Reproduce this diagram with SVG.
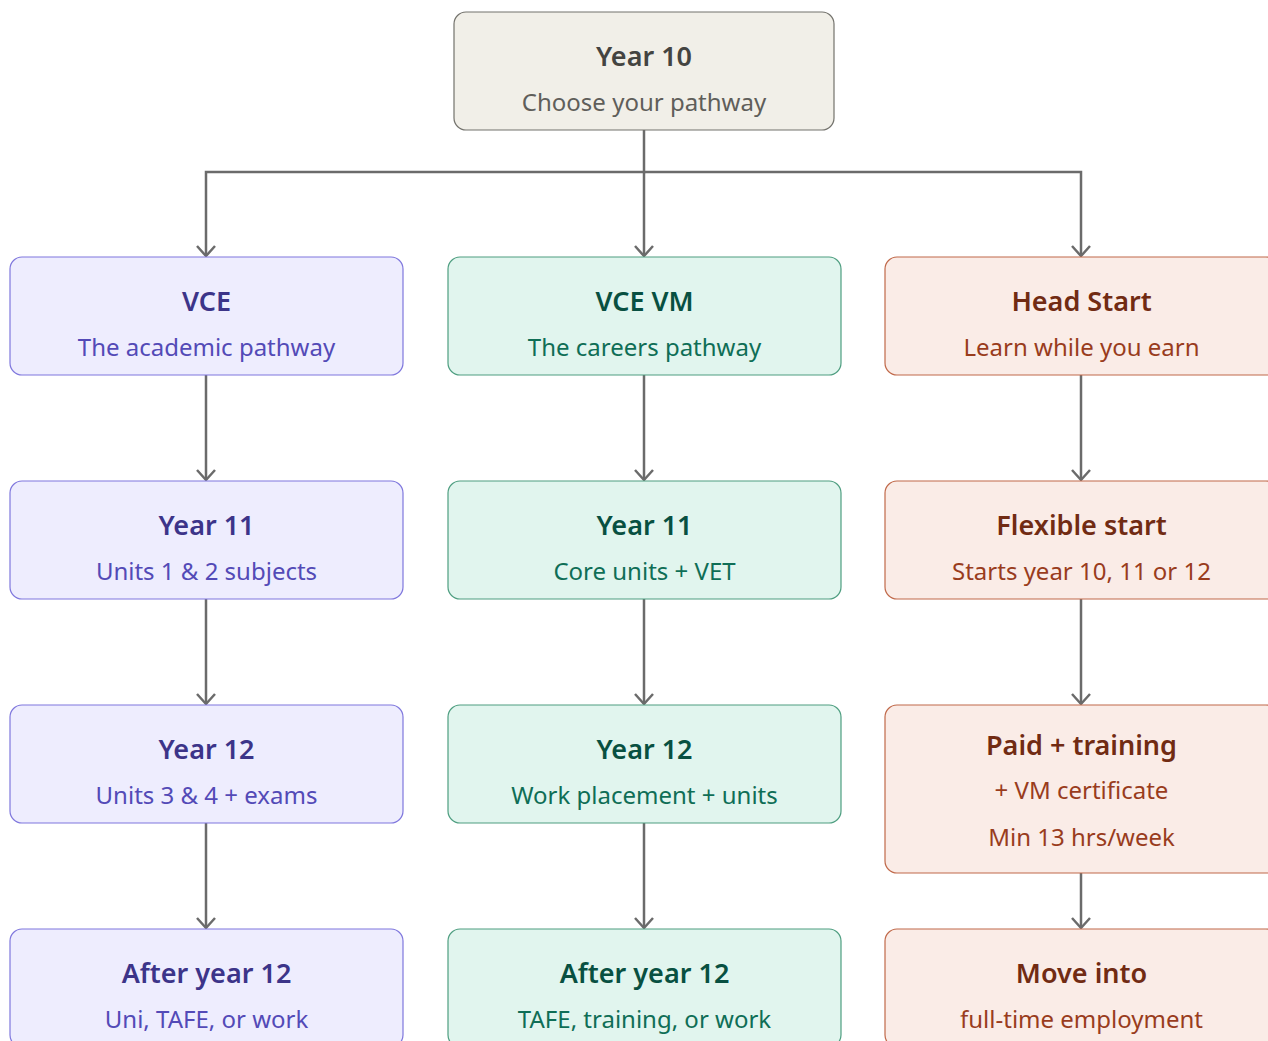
<svg xmlns="http://www.w3.org/2000/svg" width="1268" height="1041" viewBox="0 0 1268 1041">
<style>
.n rect{stroke-width:1.2}
.t{font-family:"Noto Sans","Open Sans",sans-serif;font-size:27px;font-weight:600;text-anchor:middle}
.s{font-family:"Noto Sans","Open Sans",sans-serif;font-size:24px;text-anchor:middle}
.g rect{fill:#F1EFE8;stroke:#73726C}.g .t{fill:#444441}.g .s{fill:#5F5E5A}
.p rect{fill:#EEEDFE;stroke:#7F77DD}.p .t{fill:#3C3489}.p .s{fill:#534AB7}
.m rect{fill:#E1F5EE;stroke:#4E9E80}.m .t{fill:#085041}.m .s{fill:#0F6E56}
.c rect{fill:#FAECE7;stroke:#C0694A}.c .t{fill:#712B13}.c .s{fill:#993C1D}
.e{fill:none;stroke:#6B6B6B;stroke-width:2.5}
</style>
<defs>
<marker id="a" viewBox="0 0 20 20" refX="18" refY="10" markerWidth="20" markerHeight="20" markerUnits="userSpaceOnUse" orient="auto">
<path d="M8,1 L18,10 L8,19" fill="none" stroke="#6B6B6B" stroke-width="2.5"/>
</marker>
</defs>
<rect width="1268" height="1041" fill="#fff"/>
<g id="connectors">
<path class="e" d="M644,130 V172 H206 V256" marker-end="url(#a)"/>
<path class="e" d="M644,172 V256" marker-end="url(#a)"/>
<path class="e" d="M644,172 H1081 V256" marker-end="url(#a)"/>
<path class="e" d="M206,375 V480" marker-end="url(#a)"/>
<path class="e" d="M644,375 V480" marker-end="url(#a)"/>
<path class="e" d="M1081,375 V480" marker-end="url(#a)"/>
<path class="e" d="M206,599 V704" marker-end="url(#a)"/>
<path class="e" d="M644,599 V704" marker-end="url(#a)"/>
<path class="e" d="M1081,599 V704" marker-end="url(#a)"/>
<path class="e" d="M206,823 V928" marker-end="url(#a)"/>
<path class="e" d="M644,823 V928" marker-end="url(#a)"/>
<path class="e" d="M1081,873 V928" marker-end="url(#a)"/>
</g>
<g id="year10" class="n g"><rect x="454" y="12" width="380" height="118" rx="12"/><text class="t" x="644" y="66">Year 10</text><text class="s" x="644" y="111">Choose your pathway</text></g>
<g id="vce" class="n p"><rect x="10" y="257" width="393" height="118" rx="12"/><text class="t" x="206.5" y="311">VCE</text><text class="s" x="206.5" y="356">The academic pathway</text></g>
<g id="vcevm" class="n m"><rect x="448" y="257" width="393" height="118" rx="12"/><text class="t" x="644.5" y="311">VCE VM</text><text class="s" x="644.5" y="356">The careers pathway</text></g>
<g id="headstart" class="n c"><rect x="885" y="257" width="393" height="118" rx="12"/><text class="t" x="1081.5" y="311">Head Start</text><text class="s" x="1081.5" y="356">Learn while you earn</text></g>
<g id="vce11" class="n p"><rect x="10" y="481" width="393" height="118" rx="12"/><text class="t" x="206.5" y="535">Year 11</text><text class="s" x="206.5" y="580">Units 1 &amp; 2 subjects</text></g>
<g id="vm11" class="n m"><rect x="448" y="481" width="393" height="118" rx="12"/><text class="t" x="644.5" y="535">Year 11</text><text class="s" x="644.5" y="580">Core units + VET</text></g>
<g id="hsflex" class="n c"><rect x="885" y="481" width="393" height="118" rx="12"/><text class="t" x="1081.5" y="535">Flexible start</text><text class="s" x="1081.5" y="580">Starts year 10, 11 or 12</text></g>
<g id="vce12" class="n p"><rect x="10" y="705" width="393" height="118" rx="12"/><text class="t" x="206.5" y="759">Year 12</text><text class="s" x="206.5" y="804">Units 3 &amp; 4 + exams</text></g>
<g id="vm12" class="n m"><rect x="448" y="705" width="393" height="118" rx="12"/><text class="t" x="644.5" y="759">Year 12</text><text class="s" x="644.5" y="804">Work placement + units</text></g>
<g id="hspaid" class="n c"><rect x="885" y="705" width="393" height="168" rx="12"/><text class="t" x="1081.5" y="755">Paid + training</text><text class="s" x="1081.5" y="799">+ VM certificate</text><text class="s" x="1081.5" y="846">Min 13 hrs/week</text></g>
<g id="vceafter" class="n p"><rect x="10" y="929" width="393" height="118" rx="12"/><text class="t" x="206.5" y="983">After year 12</text><text class="s" x="206.5" y="1028">Uni, TAFE, or work</text></g>
<g id="vmafter" class="n m"><rect x="448" y="929" width="393" height="118" rx="12"/><text class="t" x="644.5" y="983">After year 12</text><text class="s" x="644.5" y="1028">TAFE, training, or work</text></g>
<g id="hsmove" class="n c"><rect x="885" y="929" width="393" height="118" rx="12"/><text class="t" x="1081.5" y="983">Move into</text><text class="s" x="1081.5" y="1028">full-time employment</text></g>
</svg>
